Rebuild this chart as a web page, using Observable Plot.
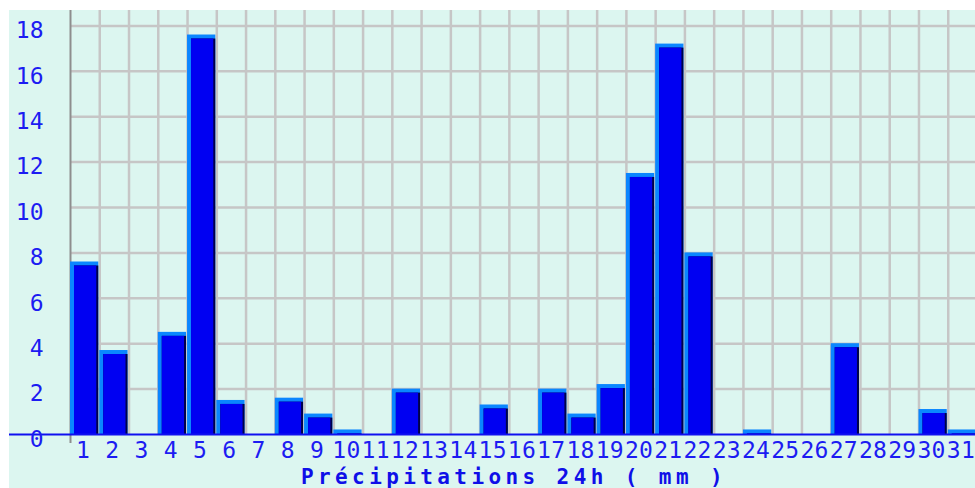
<!DOCTYPE html>
<html>
<head>
<meta charset="utf-8">
<script src="https://cdn.jsdelivr.net/npm/d3@7"></script>
<script src="https://cdn.jsdelivr.net/npm/@observablehq/plot@0.6"></script>
<style>
  html, body { margin: 0; padding: 0; background: #ffffff; }
  #chart { position: absolute; left: 9px; top: 10px; }
  #chart svg { display: block; }
  #chart g[aria-label="x-axis tick label"] text { letter-spacing: 0.3px; }
  #chart g[aria-label="text"] text { letter-spacing: 4.4px; }
</style>
</head>
<body>
<div id="chart"></div>
<script>
const days = [1,2,3,4,5,6,7,8,9,10,11,12,13,14,15,16,17,18,19,20,21,22,23,24,25,26,27,28,29,30,31];
const precip = [7.6,3.7,0,4.5,17.6,1.5,0,1.6,0.9,0.2,0,2.0,0,0,1.3,0,2.0,0.9,2.2,11.5,17.2,8.0,0,0.2,0,0,4.0,0,0,1.1,0.2];
const yTicks = [0,2,4,6,8,10,12,14,16,18];
const title = "Précipitations 24h ( mm )";

const data = days.map((d, i) => ({day: d, value: precip[i]}));
const bars = data.filter(d => d.value > 0);
const gridX = days.slice(0, -1).map(d => d + 0.5);

const blueText = "#1c1cf2";
const light = "#0a86ff";
const main = "#0000f2";
const dark = "#00004a";
const grid = "#c6c6c6";

const W = 966, H = 478;

const chart = Plot.plot({
  width: W,
  height: H,
  marginLeft: 61,
  marginRight: 0,
  marginTop: 0,
  marginBottom: 54,
  style: {background: "#dcf6f0", fontFamily: "DejaVu Sans Mono", overflow: "visible"},
  x: {domain: [0.5, 31.5], range: [61, 968]},
  y: {domain: [0, 18.68], range: [424, 0]},
  marks: [
    Plot.ruleY(yTicks.slice(1), {stroke: grid, strokeWidth: 2.5}),
    Plot.ruleX(gridX, {stroke: grid, strokeWidth: 2.5}),
    Plot.ruleX([0.5], {y1: -0.4, y2: 18.68, stroke: "#8e8e8e", strokeWidth: 2}),
    Plot.rectY(bars, {x1: d => d.day - 0.5, x2: d => d.day + 0.5, y1: 0, y2: "value", fill: light, insetRight: 1}),
    Plot.rectY(bars, {x1: d => d.day - 0.5, x2: d => d.day + 0.5, y1: 0, y2: "value", fill: dark, insetLeft: 4, insetTop: 4, insetRight: 1}),
    Plot.rectY(bars, {x1: d => d.day - 0.5, x2: d => d.day + 0.5, y1: 0, y2: "value", fill: main, insetLeft: 4, insetTop: 4, insetRight: 3}),
    Plot.ruleY([0], {stroke: "#1010f0", strokeWidth: 2}),
    Plot.axisY([0], {anchor: "left", tickSize: 61, stroke: "#1010f0", strokeWidth: 2, text: null, label: null}),
    Plot.axisY(yTicks, {anchor: "left", tickSize: 0, tickPadding: 27, dy: 5, fontSize: 23, fill: blueText, label: null, fontFamily: "DejaVu Sans Mono"}),
    Plot.axisX(days, {anchor: "bottom", tickSize: 0, tickPadding: 7, dx: -2, fontSize: 23, fill: blueText, label: null, fontFamily: "DejaVu Sans Mono"}),
    Plot.text([title], {frameAnchor: "bottom", dy: 49, dx: -9, lineAnchor: "bottom", fontSize: 21, fontWeight: "bold", fill: "#0f0fe8", fontFamily: "DejaVu Sans Mono"})
  ]
});
document.getElementById("chart").appendChild(chart);
</script>
</body>
</html>
